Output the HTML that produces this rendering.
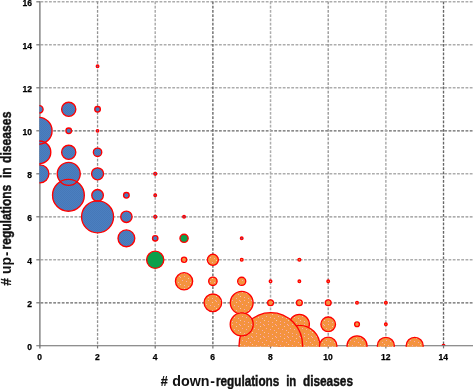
<!DOCTYPE html>
<html><head><meta charset="utf-8"><title>chart</title><style>html,body{margin:0;padding:0;background:#fff}svg{display:block}</style></head><body>
<svg width="473" height="389" viewBox="0 0 473 389">
<defs>
<pattern id="po" width="12" height="12" patternUnits="userSpaceOnUse"><rect width="12" height="12" fill="#f4933f"/><rect x="0" y="1" width="1" height="1" fill="#f8abb0"/><rect x="4" y="0" width="1" height="1" fill="#f8abb0"/><rect x="8" y="2" width="1" height="1" fill="#fac8a8"/><rect x="2" y="4" width="1" height="1" fill="#f8abb0"/><rect x="6" y="5" width="1" height="1" fill="#f8abb0"/><rect x="10" y="6" width="1" height="1" fill="#f8abb0"/><rect x="0" y="8" width="1" height="1" fill="#fac8a8"/><rect x="4" y="9" width="1" height="1" fill="#f8abb0"/><rect x="8" y="10" width="1" height="1" fill="#f8abb0"/><rect x="11" y="0" width="1" height="1" fill="#f8abb0"/></pattern>
<pattern id="pb" width="2" height="2" patternUnits="userSpaceOnUse"><rect width="2" height="2" fill="#4b7fc0"/><rect width="1" height="1" fill="#4678b8"/><rect x="1" y="1" width="1" height="1" fill="#4678b8"/></pattern>
<clipPath id="cp2"><rect x="0" y="0" width="473" height="345.6"/></clipPath>
<clipPath id="cp"><rect x="39.4" y="0" width="440" height="346.8"/></clipPath>
</defs>
<rect width="473" height="389" fill="#fff"/>
<line x1="40.5" y1="302.80" x2="473" y2="302.80" stroke="#666666" stroke-width="1.35" stroke-dasharray="2.8 1.45"/>
<line x1="40.5" y1="259.80" x2="473" y2="259.80" stroke="#adadad" stroke-width="1.5" stroke-dasharray="2.8 1.45"/>
<line x1="40.5" y1="216.80" x2="473" y2="216.80" stroke="#929292" stroke-width="1.3" stroke-dasharray="2.8 1.45"/>
<line x1="40.5" y1="173.80" x2="473" y2="173.80" stroke="#adadad" stroke-width="1.5" stroke-dasharray="2.8 1.45"/>
<line x1="40.5" y1="130.80" x2="473" y2="130.80" stroke="#666666" stroke-width="1.35" stroke-dasharray="2.8 1.45"/>
<line x1="40.5" y1="87.80" x2="473" y2="87.80" stroke="#adadad" stroke-width="1.5" stroke-dasharray="2.8 1.45"/>
<line x1="40.5" y1="44.80" x2="473" y2="44.80" stroke="#adadad" stroke-width="1.5" stroke-dasharray="2.8 1.45"/>
<line x1="40.5" y1="1.80" x2="473" y2="1.80" stroke="#adadad" stroke-width="1.5" stroke-dasharray="2.8 1.45"/>
<line x1="97.56" y1="1.5" x2="97.56" y2="345.8" stroke="#929292" stroke-width="1.3" stroke-dasharray="2.8 1.45"/>
<line x1="155.22" y1="1.5" x2="155.22" y2="345.8" stroke="#adadad" stroke-width="1.5" stroke-dasharray="2.8 1.45"/>
<line x1="212.88" y1="1.5" x2="212.88" y2="345.8" stroke="#666666" stroke-width="1.35" stroke-dasharray="2.8 1.45"/>
<line x1="270.54" y1="1.5" x2="270.54" y2="345.8" stroke="#adadad" stroke-width="1.5" stroke-dasharray="2.8 1.45"/>
<line x1="328.20" y1="1.5" x2="328.20" y2="345.8" stroke="#929292" stroke-width="1.3" stroke-dasharray="2.8 1.45"/>
<line x1="385.86" y1="1.5" x2="385.86" y2="345.8" stroke="#adadad" stroke-width="1.5" stroke-dasharray="2.8 1.45"/>
<line x1="443.52" y1="1.5" x2="443.52" y2="345.8" stroke="#666666" stroke-width="1.35" stroke-dasharray="2.8 1.45"/>
<circle cx="443.52" cy="345.80" r="1.4" clip-path="url(#cp2)" fill="#4b7fc0" stroke="#ff0000" stroke-width="1.35"/>
<line x1="39.9" y1="1.2" x2="39.9" y2="348.4" stroke="#737373" stroke-width="1.3"/>
<line x1="36.3" y1="345.75" x2="473" y2="345.75" stroke="#6a6a6a" stroke-width="1.15"/>
<line x1="36.3" y1="302.80" x2="39.9" y2="302.80" stroke="#737373" stroke-width="1.2"/>
<line x1="36.3" y1="259.80" x2="39.9" y2="259.80" stroke="#737373" stroke-width="1.2"/>
<line x1="36.3" y1="216.80" x2="39.9" y2="216.80" stroke="#737373" stroke-width="1.2"/>
<line x1="36.3" y1="173.80" x2="39.9" y2="173.80" stroke="#737373" stroke-width="1.2"/>
<line x1="36.3" y1="130.80" x2="39.9" y2="130.80" stroke="#737373" stroke-width="1.2"/>
<line x1="36.3" y1="87.80" x2="39.9" y2="87.80" stroke="#737373" stroke-width="1.2"/>
<line x1="36.3" y1="44.80" x2="39.9" y2="44.80" stroke="#737373" stroke-width="1.2"/>
<line x1="36.3" y1="1.80" x2="39.9" y2="1.80" stroke="#737373" stroke-width="1.2"/>
<line x1="97.56" y1="345.8" x2="97.56" y2="348.4" stroke="#737373" stroke-width="1.2"/>
<line x1="155.22" y1="345.8" x2="155.22" y2="348.4" stroke="#737373" stroke-width="1.2"/>
<line x1="212.88" y1="345.8" x2="212.88" y2="348.4" stroke="#737373" stroke-width="1.2"/>
<line x1="270.54" y1="345.8" x2="270.54" y2="348.4" stroke="#737373" stroke-width="1.2"/>
<line x1="328.20" y1="345.8" x2="328.20" y2="348.4" stroke="#737373" stroke-width="1.2"/>
<line x1="385.86" y1="345.8" x2="385.86" y2="348.4" stroke="#737373" stroke-width="1.2"/>
<line x1="443.52" y1="345.8" x2="443.52" y2="348.4" stroke="#737373" stroke-width="1.2"/>
<g clip-path="url(#cp)">
<circle cx="39.40" cy="109.30" r="3.7" fill="url(#pb)"/>
<circle cx="68.73" cy="109.30" r="7.1" fill="url(#pb)"/>
<circle cx="97.56" cy="109.30" r="2.8" fill="url(#pb)"/>
<circle cx="38.60" cy="130.80" r="13.5" fill="url(#pb)"/>
<circle cx="68.73" cy="130.80" r="2.8" fill="url(#pb)"/>
<circle cx="97.56" cy="130.80" r="1.25" fill="url(#pb)"/>
<circle cx="39.50" cy="152.30" r="11.3" fill="url(#pb)"/>
<circle cx="68.73" cy="152.30" r="7.1" fill="url(#pb)"/>
<circle cx="97.56" cy="152.30" r="4.2" fill="url(#pb)"/>
<circle cx="39.90" cy="173.80" r="9" fill="url(#pb)"/>
<circle cx="68.73" cy="173.80" r="11.5" fill="url(#pb)"/>
<circle cx="97.56" cy="173.80" r="6" fill="url(#pb)"/>
<circle cx="68.43" cy="195.30" r="15.9" fill="url(#pb)"/>
<circle cx="97.56" cy="195.30" r="5.8" fill="url(#pb)"/>
<circle cx="126.39" cy="195.30" r="2.8" fill="url(#pb)"/>
<circle cx="97.56" cy="216.80" r="16.0" fill="url(#pb)"/>
<circle cx="126.39" cy="216.80" r="5.7" fill="url(#pb)"/>
<circle cx="126.39" cy="238.30" r="8.4" fill="url(#pb)"/>
<circle cx="155.22" cy="238.30" r="2.7" fill="url(#pb)"/>
<circle cx="97.56" cy="66.30" r="1.3" fill="url(#pb)"/>
<circle cx="155.22" cy="173.80" r="1.4" fill="url(#pb)"/>
<circle cx="155.22" cy="195.30" r="1.3" fill="url(#pb)"/>
<circle cx="155.22" cy="216.80" r="1.4" fill="url(#pb)"/>
<circle cx="184.05" cy="216.80" r="1.3" fill="url(#pb)"/>
<circle cx="241.71" cy="238.30" r="1.3" fill="url(#pb)"/>
<circle cx="39.40" cy="109.30" r="3.7" fill="none" stroke="#ff0000" stroke-width="1.35"/>
<circle cx="68.73" cy="109.30" r="7.1" fill="none" stroke="#ff0000" stroke-width="1.35"/>
<circle cx="97.56" cy="109.30" r="2.8" fill="none" stroke="#ff0000" stroke-width="1.35"/>
<circle cx="38.60" cy="130.80" r="13.5" fill="none" stroke="#ff0000" stroke-width="1.35"/>
<circle cx="68.73" cy="130.80" r="2.8" fill="none" stroke="#ff0000" stroke-width="1.35"/>
<circle cx="97.56" cy="130.80" r="1.25" fill="none" stroke="#ff0000" stroke-width="1.35"/>
<circle cx="39.50" cy="152.30" r="11.3" fill="none" stroke="#ff0000" stroke-width="1.35"/>
<circle cx="68.73" cy="152.30" r="7.1" fill="none" stroke="#ff0000" stroke-width="1.35"/>
<circle cx="97.56" cy="152.30" r="4.2" fill="none" stroke="#ff0000" stroke-width="1.35"/>
<circle cx="39.90" cy="173.80" r="9" fill="none" stroke="#ff0000" stroke-width="1.35"/>
<circle cx="68.73" cy="173.80" r="11.5" fill="none" stroke="#ff0000" stroke-width="1.35"/>
<circle cx="97.56" cy="173.80" r="6" fill="none" stroke="#ff0000" stroke-width="1.35"/>
<circle cx="68.43" cy="195.30" r="15.9" fill="none" stroke="#ff0000" stroke-width="1.35"/>
<circle cx="97.56" cy="195.30" r="5.8" fill="none" stroke="#ff0000" stroke-width="1.35"/>
<circle cx="126.39" cy="195.30" r="2.8" fill="none" stroke="#ff0000" stroke-width="1.35"/>
<circle cx="97.56" cy="216.80" r="16.0" fill="none" stroke="#ff0000" stroke-width="1.35"/>
<circle cx="126.39" cy="216.80" r="5.7" fill="none" stroke="#ff0000" stroke-width="1.35"/>
<circle cx="126.39" cy="238.30" r="8.4" fill="none" stroke="#ff0000" stroke-width="1.35"/>
<circle cx="155.22" cy="238.30" r="2.7" fill="none" stroke="#ff0000" stroke-width="1.35"/>
<circle cx="97.56" cy="66.30" r="1.3" fill="none" stroke="#ff0000" stroke-width="1.35"/>
<circle cx="155.22" cy="173.80" r="1.4" fill="none" stroke="#ff0000" stroke-width="1.35"/>
<circle cx="155.22" cy="195.30" r="1.3" fill="none" stroke="#ff0000" stroke-width="1.35"/>
<circle cx="155.22" cy="216.80" r="1.4" fill="none" stroke="#ff0000" stroke-width="1.35"/>
<circle cx="184.05" cy="216.80" r="1.3" fill="none" stroke="#ff0000" stroke-width="1.35"/>
<circle cx="241.71" cy="238.30" r="1.3" fill="none" stroke="#ff0000" stroke-width="1.35"/>
<circle cx="155.22" cy="259.80" r="8.6" fill="#0ca04c" stroke="#ff0000" stroke-width="1.35"/>
<circle cx="184.05" cy="238.30" r="4.1" fill="#0ca04c" stroke="#ff0000" stroke-width="1.35"/>
<circle cx="184.05" cy="259.80" r="2.6" fill="url(#po)" stroke="#ff0000" stroke-width="1.35"/>
<circle cx="212.88" cy="259.80" r="5.5" fill="url(#po)" stroke="#ff0000" stroke-width="1.35"/>
<circle cx="241.71" cy="259.80" r="1.4" fill="url(#po)" stroke="#ff0000" stroke-width="1.35"/>
<circle cx="299.37" cy="259.80" r="1.4" fill="url(#po)" stroke="#ff0000" stroke-width="1.35"/>
<circle cx="184.05" cy="281.30" r="8.6" fill="url(#po)" stroke="#ff0000" stroke-width="1.35"/>
<circle cx="212.88" cy="281.30" r="4.2" fill="url(#po)" stroke="#ff0000" stroke-width="1.35"/>
<circle cx="241.71" cy="281.30" r="4.05" fill="url(#po)" stroke="#ff0000" stroke-width="1.35"/>
<circle cx="270.54" cy="281.30" r="1.3" fill="url(#po)" stroke="#ff0000" stroke-width="1.35"/>
<circle cx="299.37" cy="281.30" r="1.3" fill="url(#po)" stroke="#ff0000" stroke-width="1.35"/>
<circle cx="328.20" cy="281.30" r="1.3" fill="url(#po)" stroke="#ff0000" stroke-width="1.35"/>
<circle cx="212.88" cy="302.80" r="8.8" fill="url(#po)" stroke="#ff0000" stroke-width="1.35"/>
<circle cx="270.54" cy="302.80" r="2.9" fill="url(#po)" stroke="#ff0000" stroke-width="1.35"/>
<circle cx="299.37" cy="302.80" r="2.9" fill="url(#po)" stroke="#ff0000" stroke-width="1.35"/>
<circle cx="328.20" cy="302.80" r="2.9" fill="url(#po)" stroke="#ff0000" stroke-width="1.35"/>
<circle cx="357.03" cy="302.80" r="1.3" fill="url(#po)" stroke="#ff0000" stroke-width="1.35"/>
<circle cx="385.86" cy="302.80" r="1.3" fill="url(#po)" stroke="#ff0000" stroke-width="1.35"/>
<circle cx="299.37" cy="324.30" r="10" fill="url(#po)" stroke="#ff0000" stroke-width="1.35"/>
<circle cx="328.20" cy="324.30" r="7.3" fill="url(#po)" stroke="#ff0000" stroke-width="1.35"/>
<circle cx="357.03" cy="324.30" r="2.4" fill="url(#po)" stroke="#ff0000" stroke-width="1.35"/>
<circle cx="385.86" cy="324.30" r="1.3" fill="url(#po)" stroke="#ff0000" stroke-width="1.35"/>
<circle cx="299.37" cy="345.80" r="20.5" fill="url(#po)" stroke="#ff0000" stroke-width="1.35"/>
<ellipse cx="270.84" cy="345.80" rx="31.8" ry="33.2" fill="url(#po)" stroke="#ff0000" stroke-width="1.35"/>
<circle cx="241.71" cy="302.80" r="11.4" fill="url(#po)" stroke="#ff0000" stroke-width="1.35"/>
<circle cx="241.71" cy="324.30" r="11.5" fill="url(#po)" stroke="#ff0000" stroke-width="1.35"/>
<circle cx="328.20" cy="345.80" r="8.7" fill="url(#po)" stroke="#ff0000" stroke-width="1.35"/>
<circle cx="357.03" cy="345.80" r="10" fill="url(#po)" stroke="#ff0000" stroke-width="1.35"/>
<circle cx="385.86" cy="345.80" r="8.5" fill="url(#po)" stroke="#ff0000" stroke-width="1.35"/>
<circle cx="414.69" cy="345.80" r="8.5" fill="url(#po)" stroke="#ff0000" stroke-width="1.35"/>
</g>
<g font-family="'Liberation Sans', sans-serif" font-weight="bold" font-size="8.5" fill="#000" stroke="#000" stroke-width="0.25">
<text x="32" y="349.65" text-anchor="end">0</text>
<text x="32" y="306.65" text-anchor="end">2</text>
<text x="32" y="263.65" text-anchor="end">4</text>
<text x="32" y="220.65" text-anchor="end">6</text>
<text x="32" y="177.65" text-anchor="end">8</text>
<text x="32" y="134.65" text-anchor="end">10</text>
<text x="32" y="91.65" text-anchor="end">12</text>
<text x="32" y="48.65" text-anchor="end">14</text>
<text x="32" y="5.90" text-anchor="end">16</text>
<text x="39.70" y="359.9" text-anchor="middle">0</text>
<text x="97.36" y="359.9" text-anchor="middle">2</text>
<text x="155.02" y="359.9" text-anchor="middle">4</text>
<text x="212.68" y="359.9" text-anchor="middle">6</text>
<text x="270.34" y="359.9" text-anchor="middle">8</text>
<text x="328.00" y="359.9" text-anchor="middle">10</text>
<text x="385.66" y="359.9" text-anchor="middle">12</text>
<text x="443.32" y="359.9" text-anchor="middle">14</text>
</g>
<g font-family="'Liberation Sans', sans-serif" font-weight="bold" font-size="15.2" fill="#111">
<text><tspan x="160.7" y="385.6" textLength="7.0" lengthAdjust="spacingAndGlyphs" stroke="#111" stroke-width="0.2">#</tspan> <tspan x="172.3" y="385.6" textLength="37.3" lengthAdjust="spacingAndGlyphs">down</tspan><tspan x="210.3" y="385.6" textLength="4.7" lengthAdjust="spacingAndGlyphs">-</tspan><tspan x="215.9" y="385.6" textLength="63.4" lengthAdjust="spacingAndGlyphs" stroke="#111" stroke-width="0.45">regulations</tspan> <tspan x="286.2" y="385.6" textLength="10.1" lengthAdjust="spacingAndGlyphs" stroke="#111" stroke-width="0.45">in</tspan> <tspan x="302.9" y="385.6" textLength="50.1" lengthAdjust="spacingAndGlyphs" stroke="#111" stroke-width="0.45">diseases</tspan></text>
<text transform="translate(11.3 0) rotate(-90)"><tspan x="-285.7" y="0" textLength="7.7" lengthAdjust="spacingAndGlyphs" stroke="#111" stroke-width="0.2">#</tspan> <tspan x="-273.9" y="0" textLength="16.9" lengthAdjust="spacingAndGlyphs">up</tspan><tspan x="-255.9" y="0" textLength="4.3" lengthAdjust="spacingAndGlyphs">-</tspan><tspan x="-249.4" y="0" textLength="64.6" lengthAdjust="spacingAndGlyphs" stroke="#111" stroke-width="0.45">regulations</tspan> <tspan x="-178.0" y="0" textLength="10.6" lengthAdjust="spacingAndGlyphs" stroke="#111" stroke-width="0.45">in</tspan> <tspan x="-163.0" y="0" textLength="51.4" lengthAdjust="spacingAndGlyphs" stroke="#111" stroke-width="0.45">diseases</tspan></text>
</g>
</svg>
</body></html>
